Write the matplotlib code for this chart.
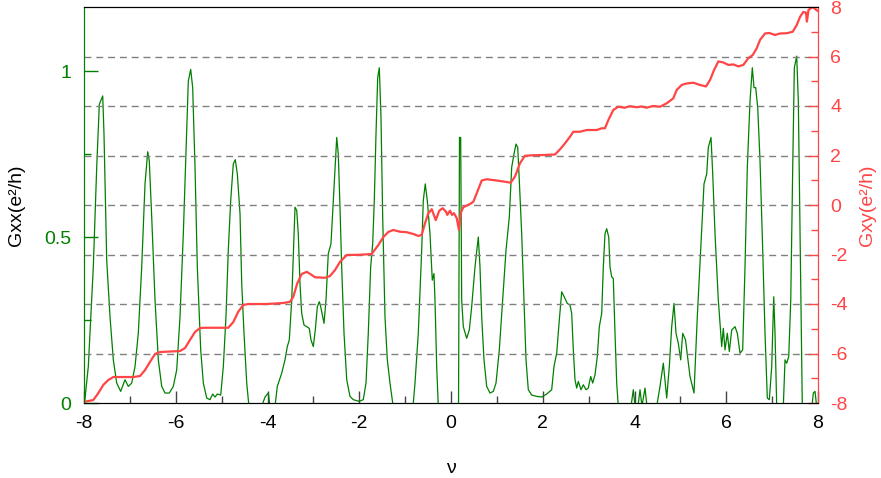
import matplotlib
matplotlib.use("Agg")
import matplotlib.pyplot as plt
from matplotlib.ticker import MultipleLocator

plt.rcParams['font.family'] = ['Liberation Sans', 'DejaVu Sans']
plt.rcParams['axes.unicode_minus'] = False

# ---- dados ----
# Gxx (verde, eixo esquerdo)
nu_xx = [-7.985, -7.906, -7.797, -7.723, -7.666, -7.592, -7.564, -7.505, -7.433, -7.361,
         -7.287, -7.200, -7.106, -7.034, -6.960, -6.888, -6.816, -6.742, -6.670, -6.611,
         -6.577, -6.524, -6.452, -6.380, -6.306, -6.234, -6.141, -6.053, -5.979, -5.907,
         -5.835, -5.777, -5.726, -5.674, -5.631, -5.580, -5.530, -5.456, -5.399, -5.325,
         -5.253, -5.195, -5.144, -5.094, -5.020, -4.963, -4.905, -4.855, -4.802, -4.746,
         -4.702, -4.658, -4.599, -4.562, -4.512, -4.453, -4.397, -4.272, -4.126, -4.054,
         -3.983, -3.946, -3.837, -3.786, -3.690, -3.619, -3.568, -3.525, -3.472, -3.437,
         -3.400, -3.363, -3.329, -3.292, -3.255, -3.204, -3.145, -3.089, -3.052, -3.002,
         -2.958, -2.914, -2.870, -2.840, -2.768, -2.725, -2.675, -2.616, -2.566, -2.491,
         -2.457, -2.420, -2.383, -2.332, -2.273, -2.202, -2.130, -2.000, -1.912, -1.853,
         -1.803, -1.751, -1.707, -1.672, -1.635, -1.598, -1.563, -1.526, -1.489, -1.439,
         -1.388, -1.330, -1.271, -1.112, -0.894, -0.828, -0.785, -0.713, -0.639, -0.604,
         -0.561, -0.517, -0.458, -0.408, -0.371, -0.349, -0.312, -0.277, -0.065, 0.164,
         0.185, 0.211, 0.233, 0.268, 0.342, 0.399, 0.451, 0.523, 0.595, 0.632,
         0.669, 0.719, 0.778, 0.850, 0.922, 0.981, 1.053, 1.127, 1.199, 1.271,
         1.323, 1.373, 1.417, 1.454, 1.489, 1.541, 1.591, 1.635, 1.685, 1.759,
         1.868, 1.977, 2.086, 2.195, 2.245, 2.304, 2.361, 2.413, 2.485, 2.535,
         2.594, 2.631, 2.666, 2.703, 2.740, 2.775, 2.834, 2.884, 2.943, 2.993,
         3.045, 3.089, 3.139, 3.189, 3.233, 3.285, 3.320, 3.357, 3.394, 3.438,
         3.466, 3.503, 3.538, 3.575, 3.612, 3.647, 3.793, 3.924, 3.974, 4.011,
         4.076, 4.120, 4.163, 4.229, 4.272, 4.484, 4.556, 4.628, 4.702, 4.759,
         4.811, 4.861, 4.905, 4.955, 5.007, 5.051, 5.112, 5.210, 5.297, 5.369,
         5.443, 5.515, 5.574, 5.609, 5.668, 5.705, 5.755, 5.827, 5.901, 5.936,
         5.973, 6.023, 6.067, 6.119, 6.191, 6.241, 6.300, 6.358, 6.409, 6.459,
         6.518, 6.568, 6.605, 6.642, 6.686, 6.736, 6.795, 6.845, 6.895, 6.939,
         6.991, 7.035, 7.063, 7.100, 7.244, 7.281, 7.318, 7.362, 7.406, 7.449,
         7.484, 7.536, 7.571, 7.608, 7.658, 7.869, 7.898, 7.935, 7.971]
g_xx = [0.005, 0.11, 0.41, 0.71, 0.90, 0.925, 0.81, 0.43, 0.26, 0.13,
        0.06, 0.035, 0.07, 0.05, 0.06, 0.11, 0.21, 0.41, 0.66, 0.757,
        0.73, 0.56, 0.31, 0.13, 0.05, 0.03, 0.03, 0.05, 0.10, 0.26,
        0.51, 0.76, 0.97, 1.005, 0.95, 0.71, 0.41, 0.16, 0.06, 0.015,
        0.01, 0.027, 0.018, 0.027, 0.024, 0.11, 0.26, 0.46, 0.61, 0.72,
        0.733, 0.69, 0.57, 0.36, 0.21, 0.06, -0.02, -0.05, -0.01, 0.018,
        0.03, -0.01, -0.01, 0.05, 0.09, 0.13, 0.17, 0.19, 0.31, 0.45,
        0.59, 0.58, 0.51, 0.36, 0.27, 0.235, 0.23, 0.225, 0.19, 0.17,
        0.22, 0.29, 0.305, 0.29, 0.24, 0.31, 0.45, 0.48, 0.61, 0.80,
        0.75, 0.59, 0.41, 0.21, 0.07, 0.02, 0.01, 0.005, 0.01, 0.06,
        0.21, 0.41, 0.48, 0.61, 0.81, 0.98, 1.01, 0.86, 0.56, 0.26,
        0.13, 0.06, 0.0, -0.05, -0.05, -0.01, 0.06, 0.21, 0.46, 0.61,
        0.66, 0.61, 0.51, 0.37, 0.39, 0.31, 0.11, -0.01, -0.05, -0.01,
        0.80, 0.80, 0.31, 0.23, 0.195, 0.22, 0.29, 0.41, 0.50, 0.41,
        0.26, 0.13, 0.05, 0.03, 0.035, 0.06, 0.16, 0.31, 0.46, 0.56,
        0.71, 0.75, 0.78, 0.77, 0.67, 0.51, 0.31, 0.13, 0.04, 0.024,
        0.02, 0.018, 0.027, 0.04, 0.11, 0.15, 0.25, 0.335, 0.315, 0.30,
        0.295, 0.27, 0.16, 0.07, 0.045, 0.065, 0.04, 0.055, 0.04, 0.045,
        0.08, 0.06, 0.085, 0.14, 0.23, 0.27, 0.41, 0.51, 0.525, 0.50,
        0.41, 0.38, 0.375, 0.21, 0.06, -0.01, -0.05, -0.01, 0.04, -0.01,
        -0.01, 0.04, -0.01, 0.045, -0.01, -0.01, 0.05, 0.12, 0.015, 0.11,
        0.23, 0.30, 0.21, 0.18, 0.13, 0.21, 0.19, 0.08, 0.03, 0.26,
        0.46, 0.66, 0.69, 0.77, 0.80, 0.69, 0.51, 0.31, 0.17, 0.225,
        0.16, 0.21, 0.155, 0.22, 0.23, 0.21, 0.15, 0.16, 0.41, 0.71,
        0.91, 1.01, 0.95, 0.95, 0.89, 0.73, 0.46, 0.21, 0.015, 0.01,
        0.11, 0.32, 0.21, -0.01, -0.01, 0.13, 0.12, 0.14, 0.31, 0.71,
        1.01, 1.045, 0.91, 0.51, -0.01, -0.01, 0.03, 0.035, -0.01]

# Gxy (vermelho, eixo direito)
nu_xy = [-7.985, -7.797, -7.688, -7.579, -7.470, -7.361, -7.143, -6.925, -6.779, -6.670,
         -6.561, -6.452, -6.343, -6.125, -5.907, -5.798, -5.689, -5.580, -5.471, -5.362,
         -4.855, -4.746, -4.637, -4.527, -4.418, -4.017, -3.656, -3.510, -3.438, -3.350,
         -3.255, -3.145, -3.058, -2.965, -2.747, -2.638, -2.529, -2.420, -2.273, -1.984,
         -1.729, -1.585, -1.476, -1.367, -1.258, -1.112, -0.966, -0.822, -0.713, -0.639,
         -0.567, -0.495, -0.420, -0.333, -0.255, -0.181, -0.109, -0.081, -0.022, 0.022,
         0.065, 0.124, 0.174, 0.211, 0.268, 0.414, 0.486, 0.560, 0.669, 0.778,
         0.996, 1.177, 1.301, 1.395, 1.504, 1.613, 1.794, 2.012, 2.267, 2.376,
         2.485, 2.594, 2.666, 2.812, 2.958, 3.176, 3.285, 3.357, 3.429, 3.538,
         3.647, 3.780, 3.902, 4.050, 4.150, 4.266, 4.400, 4.556, 4.702, 4.846,
         4.920, 5.029, 5.138, 5.282, 5.428, 5.559, 5.646, 5.733, 5.827, 5.936,
         6.045, 6.154, 6.263, 6.372, 6.481, 6.577, 6.664, 6.736, 6.845, 6.939,
         7.063, 7.172, 7.318, 7.449, 7.536, 7.608, 7.680, 7.739, 7.758, 7.793,
         7.885, 7.985]
g_xy = [-7.95, -7.88, -7.60, -7.27, -7.07, -6.95, -6.95, -6.95, -6.91, -6.67,
        -6.34, -6.02, -5.94, -5.92, -5.90, -5.78, -5.45, -5.13, -4.97, -4.96,
        -4.96, -4.73, -4.31, -4.04, -4.00, -4.00, -3.96, -3.91, -3.71, -3.16,
        -2.79, -2.70, -2.80, -2.92, -2.94, -2.87, -2.63, -2.30, -2.02, -2.01,
        -1.98, -1.62, -1.30, -1.09, -1.01, -1.08, -1.10, -1.17, -1.25, -1.21,
        -0.74, -0.34, -0.17, -0.61, -0.23, -0.13, -0.27, -0.40, -0.23, -0.40,
        -0.33, -0.53, -1.01, -0.33, -0.09, 0.04, 0.13, 0.47, 0.99, 1.04,
        0.99, 0.94, 0.90, 1.15, 1.69, 1.99, 2.01, 2.02, 2.04, 2.25,
        2.49, 2.76, 2.96, 2.96, 3.03, 3.03, 3.10, 3.10, 3.43, 3.84,
        3.97, 3.93, 3.99, 3.95, 3.98, 3.93, 4.00, 3.97, 4.11, 4.31,
        4.65, 4.85, 4.91, 4.94, 4.85, 4.79, 5.05, 5.45, 5.80, 5.76,
        5.66, 5.68, 5.60, 5.66, 5.93, 6.06, 6.33, 6.67, 6.93, 6.95,
        6.87, 6.93, 6.94, 7.00, 7.27, 7.60, 7.80, 7.77, 7.41, 7.88,
        8.00, 7.85]

xticks = [-8, -6, -4, -2, 0, 2, 4, 6, 8]
gxx_ticks = [0, 0.5, 1]
gxy_ticks = [-8, -6, -4, -2, 0, 2, 4, 6, 8]
grid_levels = [-6, -4, -2, 0, 2, 4, 6]

GREEN = '#008000'
RED = '#ff4545'
FS = 14

fig = plt.figure(figsize=(8.81, 4.78), dpi=100)
ax = fig.add_axes([84 / 881, 1 - 403 / 478, 734 / 881, 396 / 478])
ax2 = ax.twinx()

# linhas de grade (nivel do eixo direito)
for lv in grid_levels:
    ax2.axhline(lv, color='#808080', lw=1.0, ls=(0, (5, 3.5)), zorder=0)

ax.plot(nu_xx, g_xx, color=GREEN, lw=0.9)
ax2.plot(nu_xy, g_xy, color=RED, lw=1.6)

ax.set_xlim(-8, 8)
ax.set_ylim(0, 1.193)
ax2.set_ylim(-8, 8)

ax.set_xticks(xticks)
ax.xaxis.set_minor_locator(MultipleLocator(1))
ax.set_yticks(gxx_ticks)
ax.set_yticklabels(['0', '0.5', '1'])
ax.yaxis.set_minor_locator(MultipleLocator(0.25))
ax2.set_yticks(gxy_ticks)
ax2.yaxis.set_minor_locator(MultipleLocator(1))

ax.tick_params(axis='x', which='major', direction='in', length=9, width=1,
               labelsize=FS, pad=9, top=False, color='#444444')
ax.tick_params(axis='x', which='minor', direction='in', length=5, width=1,
               top=False, color='#444444')
ax.tick_params(axis='y', which='major', direction='in', length=10, width=1,
               labelsize=FS, pad=9, colors=GREEN)
ax.tick_params(axis='y', which='minor', direction='in', length=5, width=1,
               color=GREEN)
ax2.tick_params(axis='y', which='major', direction='in', length=7, width=1,
                labelsize=FS, pad=9, colors=RED)
ax2.tick_params(axis='y', which='minor', direction='in', length=5, width=1,
                color=RED)

for a in (ax, ax2):
    a.spines['left'].set_color(GREEN)
    a.spines['right'].set_color(RED)
    a.spines['top'].set_color('black')
    a.spines['bottom'].set_color('black')

ax.set_xlabel('ν', fontsize=FS, labelpad=20)
ax.set_ylabel('Gxx(e²/h)', fontsize=FS, color='black', labelpad=14)
ax2.set_ylabel('Gxy(e²/h)', fontsize=FS, color=RED, labelpad=8)

fig.savefig('out.png', dpi=100)
